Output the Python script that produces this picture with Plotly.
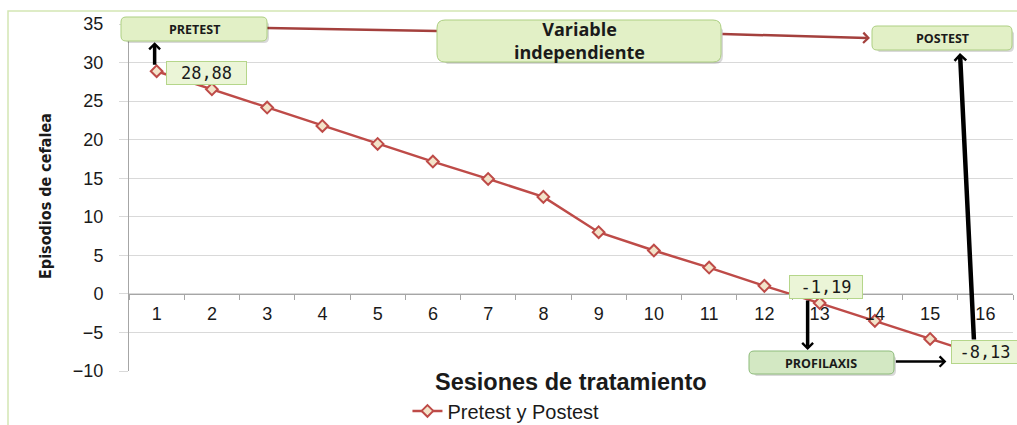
import plotly.graph_objects as go

# Sessions and headache episodes (pretest -> postest)
sesiones = [str(i) for i in range(1, 17)]
episodios = [28.88, 26.54, 24.16, 21.78, 19.45, 17.16, 14.91, 12.58,
             8.00, 5.62, 3.41, 1.04, -1.19, -3.50, -5.84, -8.13]
y_ticks = [-10, -5, 0, 5, 10, 15, 20, 25, 30, 35]
serie = "Pretest y Postest"

W, H = 1017, 425
L, R, T, B = 129, 1013, 24, 371
PW, PH = R - L, B - T


def px(x):
    return (x - L) / PW


def py(y):
    return (B - y) / PH


def fmt(v):
    return f"{v:.2f}".replace(".", ",")


RED = "#BE4B48"
DARK_RED = "#A4403D"

fig = go.Figure(go.Scatter(
    x=sesiones, y=episodios, mode="lines+markers", name=serie,
    line=dict(color=RED, width=2.5),
    marker=dict(symbol="diamond", size=9, color="#F3E3C9",
                line=dict(color=RED, width=2)),
))

tick_font = dict(family="Liberation Sans, Arial, sans-serif", size=18, color="#1a1a1a")

fig.update_layout(
    width=W, height=H,
    margin=dict(l=L, r=W - R, t=T, b=H - B, autoexpand=False),
    plot_bgcolor="white", paper_bgcolor="white",
    showlegend=True,
    legend=dict(orientation="h", x=0.315, y=-0.115, xanchor="left", yanchor="middle",
                font=dict(family="Liberation Sans, Arial, sans-serif", size=20, color="#1a1a1a")),
    xaxis=dict(type="category", range=[-0.5, 15.5], autorange=False,
               anchor="free", position=10 / 45,
               showline=True, linecolor="#A6A6A6", linewidth=1,
               ticks="outside", tickson="boundaries", ticklen=5, tickcolor="#A6A6A6",
               ticklabelstandoff=4, showgrid=False, tickfont=tick_font),
    yaxis=dict(range=[-10, 35], autorange=False, tickvals=y_ticks, showgrid=True,
               gridcolor="#D9D9D9", showline=True, linecolor="#A6A6A6", ticks="outside",
               ticklen=9, tickcolor="#D9D9D9", zeroline=False, ticklabelstandoff=12,
               tickfont=tick_font),
)


def rounded_box(x0, y0, x1, y1, r, fill, border):
    rx, ry = r / PW, r / PH
    a, b, c, d = px(x0), py(y1), px(x1), py(y0)  # left, bottom, right, top (paper)
    path = (f"M{a + rx},{b} L{c - rx},{b} Q{c},{b} {c},{b + ry} "
            f"L{c},{d - ry} Q{c},{d} {c - rx},{d} L{a + rx},{d} "
            f"Q{a},{d} {a},{d - ry} L{a},{b + ry} Q{a},{b} {a + rx},{b} Z")
    ox, oy = 2 / PW, 2 / PH
    shadow = (f"M{a + rx + ox},{b - oy} L{c - rx + ox},{b - oy} Q{c + ox},{b - oy} "
              f"{c + ox},{b + ry - oy} L{c + ox},{d - ry - oy} L{c},{d - ry} "
              f"L{c},{b + ry} L{a + rx},{b} Z")
    fig.add_shape(type="path", path=shadow, xref="paper", yref="paper",
                  fillcolor="rgba(0,0,0,0.15)", line=dict(width=0))
    fig.add_shape(type="path", path=path, xref="paper", yref="paper",
                  fillcolor=fill, line=dict(color=border, width=1))


def box_text(xc, yc, text, size):
    fig.add_annotation(xref="paper", yref="paper", x=px(xc), y=py(yc), text=text,
                       xanchor="center", yanchor="middle", showarrow=False,
                       font=dict(family="Open Sans, Lato, sans-serif", size=size,
                                 color="#1a1a1a", weight="bold"))


# Frame of the chart area
fig.add_shape(type="rect", xref="paper", yref="paper",
              x0=px(8), y0=py(440), x1=px(1030), y1=py(11),
              line=dict(color="#D3E6B4", width=1.5), fillcolor="rgba(0,0,0,0)", layer="below")

# Flow: PRETEST -> Variable independiente -> POSTEST
fig.add_shape(type="line", xref="paper", yref="paper",
              x0=px(267), y0=py(28), x1=px(437), y1=py(31),
              line=dict(color=DARK_RED, width=2.5))
fig.add_annotation(xref="paper", yref="paper", x=px(870), y=py(38),
                   ax=-149, ay=-4, showarrow=True, arrowhead=4, arrowsize=0.8,
                   arrowwidth=2.5, arrowcolor=DARK_RED, text="")

GREEN_FILL = "#E2F0C6"
GREEN_LINE = "#ADCF82"
rounded_box(121, 17, 267, 41, 5, GREEN_FILL, GREEN_LINE)
rounded_box(437, 20, 721, 62, 8, GREEN_FILL, GREEN_LINE)
rounded_box(872, 26, 1012, 50, 5, GREEN_FILL, GREEN_LINE)
rounded_box(749, 351, 894, 374, 5, "#D3E8C3", "#8DBB7A")

box_text(194, 29, "PRETEST", 12.5)
box_text(579, 41, "Variable<br>independiente", 18)
box_text(942, 38, "POSTEST", 12.5)
box_text(821, 363, "PROFILAXIS", 12.5)

# Value labels on first, thirteenth and last sessions
label_font = dict(family="DejaVu Sans Mono, monospace", size=17, color="#1a1a1a")
for i, xs, ys, w in [(0, 50, -2, 77), (12, 6, 16, 70), (15, 0, 5, 64)]:
    fig.add_annotation(x=i, y=episodios[i], text=fmt(episodios[i]),
                       showarrow=False, xshift=xs, yshift=ys, width=w, height=20,
                       xanchor="center", yanchor="middle",
                       bgcolor="#EBF5D7", bordercolor="#B5D68A", borderwidth=1,
                       font=label_font)

# Black arrows
arrow = dict(showarrow=True, arrowhead=4, arrowcolor="black", text="")
fig.add_annotation(x=0, y=episodios[0], xshift=-2, yshift=29,
                   ax=0, ay=24, arrowwidth=3.5, arrowsize=0.6, **arrow)
fig.add_annotation(x=12, y=episodios[12], xshift=-12, yshift=-47,
                   ax=0, ay=-51, arrowwidth=3.5, arrowsize=0.6, **arrow)
fig.add_annotation(x=15, y=episodios[15], xshift=-39, yshift=-5,
                   ax=-52, ay=0, arrowwidth=2.5, arrowsize=0.8, **arrow)
# Long arrow from the last value up to the POSTEST box
fig.add_annotation(xref="x domain", yref="y domain", axref="x domain", ayref="y domain",
                   x=px(960), y=py(53), ax=px(974), ay=py(341),
                   arrowwidth=4.5, arrowsize=0.5, **arrow)

# Axis titles
fig.add_annotation(xref="paper", yref="paper", x=px(45), y=py(196), textangle=-90,
                   xanchor="center", yanchor="middle",
                   text="Episodios de cefalea", showarrow=False,
                   font=dict(family="Liberation Sans Narrow, DejaVu Sans Condensed, sans-serif",
                             size=16, color="#1a1a1a", weight="bold"))
fig.add_annotation(xref="paper", yref="paper", x=px(571), y=py(382),
                   xanchor="center", yanchor="middle",
                   text="Sesiones de tratamiento", showarrow=False,
                   font=dict(family="Liberation Sans, Arial, sans-serif", size=23.5,
                             color="#1a1a1a", weight="bold"))

fig.write_html("out.html")
